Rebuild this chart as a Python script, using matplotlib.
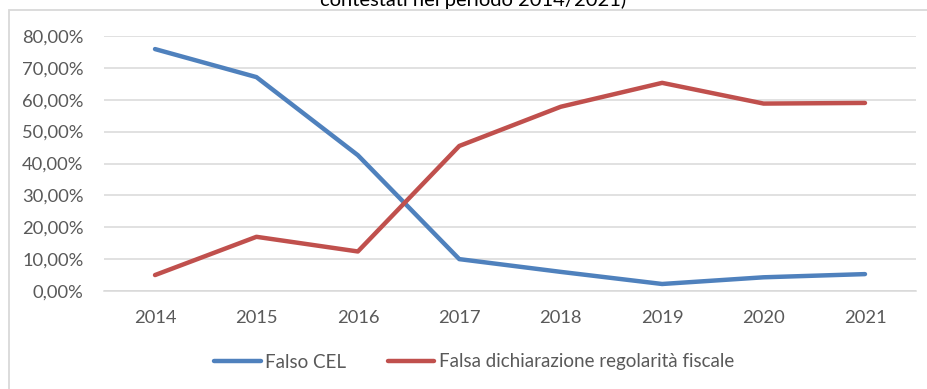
import matplotlib
matplotlib.use("Agg")
import matplotlib.pyplot as plt
from matplotlib.patches import Rectangle
from matplotlib.lines import Line2D
from matplotlib.ticker import FuncFormatter, MultipleLocator

# Data
years = ["2014", "2015", "2016", "2017", "2018", "2019", "2020", "2021"]
falso_cel = [0.759, 0.671, 0.426, 0.100, 0.060, 0.022, 0.043, 0.053]
falsa_dich = [0.050, 0.170, 0.124, 0.455, 0.578, 0.653, 0.588, 0.590]
series_names = ["Falso CEL", "Falsa dichiarazione regolarità fiscale"]
title_text = "contestati nel periodo 2014/2021)"

BLUE = "#4f81bd"
RED = "#c0504d"
GRID = "#d9d9d9"
TEXT = "#595959"

plt.rcParams["font.family"] = ["Lato", "DejaVu Sans"]

W, H = 927, 389
fig = plt.figure(figsize=(W / 100, H / 100), dpi=100)
fig.patch.set_facecolor("white")

# Chart area frame (top and left edges visible)
frame = Rectangle((8.5 / W, -0.1), 1.2, (H - 10.5) / H + 0.1,
                  transform=fig.transFigure, fill=False,
                  edgecolor=GRID, linewidth=1.3, clip_on=False)
fig.patches.append(frame)

# Document caption line above the chart
fig.text(473 / W, 1 - 6 / H, title_text, ha="center", va="baseline",
         fontsize=14.5, color="black")

ax = fig.add_axes([104.3 / W, (H - 291) / H, 811.4 / W, 255 / H])
x = list(range(len(years)))
ax.plot(x, falso_cel, color=BLUE, linewidth=3.2, solid_capstyle="round",
        solid_joinstyle="round", label=series_names[0], zorder=3)
ax.plot(x, falsa_dich, color=RED, linewidth=3.2, solid_capstyle="round",
        solid_joinstyle="round", label=series_names[1], zorder=3)

ax.set_xlim(-0.5, len(years) - 0.5)
ax.set_ylim(0, 0.8)
ax.set_xticks(x)
ax.set_xticklabels(years)
ax.yaxis.set_major_locator(MultipleLocator(0.1))
ax.yaxis.set_major_formatter(
    FuncFormatter(lambda v, p: f"{v * 100:.2f}%".replace(".", ",")))

ax.grid(axis="y", color=GRID, linewidth=1.1, zorder=0)
ax.set_axisbelow(True)
for s in ["top", "right", "left"]:
    ax.spines[s].set_visible(False)
ax.spines["bottom"].set_color(GRID)
ax.spines["bottom"].set_linewidth(1.1)
ax.tick_params(axis="both", length=0, labelsize=13.2, colors=TEXT)
ax.tick_params(axis="y", pad=15)
ax.tick_params(axis="x", pad=14)

handles = [Line2D([0], [0], color=BLUE, linewidth=3.2, solid_capstyle="round"),
           Line2D([0], [0], color=RED, linewidth=3.2, solid_capstyle="round")]
leg = fig.legend(handles, series_names, loc="center",
                 bbox_to_anchor=(474 / W, 1 - 362 / H), ncol=2, frameon=False,
                 fontsize=13.5, handlelength=2.5, handletextpad=0.25,
                 columnspacing=2.2)
for t in leg.get_texts():
    t.set_color(TEXT)

fig.savefig("out.png", dpi=100, facecolor="white")
